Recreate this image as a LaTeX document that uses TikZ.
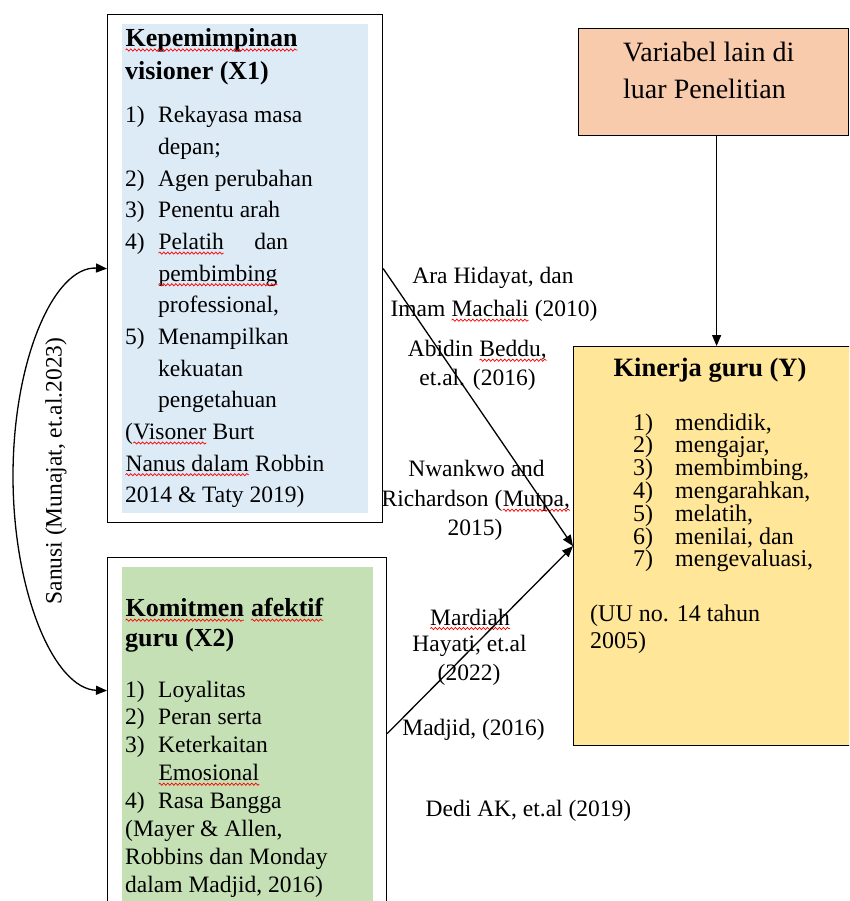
\documentclass[tikz,border=0pt]{standalone}
\usepackage{fontspec}
\setmainfont{Liberation Serif}
\newfontfamily\tnr{Liberation Serif}
\usetikzlibrary{arrows.meta,decorations.pathmorphing}
\newcommand\redsq[1]{\tikz[baseline=(w.base)]{\node[inner sep=0pt, outer sep=0pt, anchor=base, rotate=0] (w) {#1};
  \draw[red, line width=0.7pt, decorate, decoration={snake, amplitude=1.1pt, segment length=4pt}]
    ([yshift=-3.5pt]w.base west) -- ([yshift=-3.5pt]w.base east);}}
\definecolor{bluefill}{RGB}{221,235,247}
\definecolor{greenfill}{RGB}{197,224,180}
\definecolor{peachfill}{RGB}{248,203,173}
\definecolor{yellowfill}{RGB}{255,230,153}
\tikzset{
  body/.style={font=\tnr\fontsize{23.5}{28}\selectfont, inner sep=0pt, anchor=base west},
  kbody/.style={font=\tnr\fontsize{24}{28}\selectfont, inner sep=0pt, anchor=base west},
  vbody/.style={font=\tnr\fontsize{28}{32}\selectfont, inner sep=0pt, anchor=base west},
  ttl/.style={font=\tnr\bfseries\fontsize{26}{30}\selectfont, inner sep=0pt, anchor=base west},
  kttl/.style={font=\tnr\bfseries\fontsize{26.5}{30}\selectfont, inner sep=0pt, anchor=base},
  lbl/.style={font=\tnr\fontsize{23.5}{28}\selectfont, inner sep=0pt, anchor=base},
  boxx/.style={draw=black, line width=1.2pt, inner sep=0pt, anchor=north west},
  arr/.style={line width=1.3pt, -{Triangle[length=11pt,width=9pt]}},
}
\begin{document}
\begin{tikzpicture}[x=1pt,y=-1pt]
\useasboundingbox (0,0) rectangle (849,901);
\clip (0,0) rectangle (849,901);
% ---------- X1 box
\node[boxx, fill=white, minimum width=275pt, minimum height=508pt] (x1) at (107,14) {};
\fill[bluefill] (122,24) rectangle (368,513);
\node[ttl] (x1t1) at (125,46.5) {\redsq{Kepemimpinan}};
\node[ttl] (x1t2) at (125,79.5) {visioner (X1)};
\node[body] (x1n1) at (125,123) {1)};
\node[body] (x1a) at (158,123) {Rekayasa masa};
\node[body] (x1b) at (158,154.65) {depan;};
\node[body] (x1n2) at (125,186.3) {2)};
\node[body] (x1c) at (158,186.3) {Agen perubahan};
\node[body] (x1n3) at (125,217.95) {3)};
\node[body] (x1d) at (158,217.95) {Penentu arah};
\node[body] (x1n4) at (125,249.6) {4)};
\node[body] (x1e) at (158,249.6) {\hbox to 130pt{\redsq{Pelatih}\hfill dan}};
\node[body] (x1f) at (158,281.25) {\redsq{pembimbing}};
\node[body] (x1g) at (158,312.9) {professional,};
\node[body] (x1n5) at (125,344.55) {5)};
\node[body] (x1h) at (158,344.55) {Menampilkan};
\node[body] (x1i) at (158,376.2) {kekuatan};
\node[body] (x1j) at (158,407.85) {pengetahuan};
\node[body] (x1k) at (125,439.5) {(\redsq{Visoner} Burt};
\node[body] (x1l) at (125,471.15) {\redsq{Nanus dalam} Robbin};
\node[body] (x1m) at (125,502.8) {2014 \& Taty 2019)};
% ---------- X2 box
\node[boxx, fill=white, minimum width=279pt, minimum height=352pt] (x2) at (107,557) {};
\fill[greenfill] (122,567) rectangle (373,905);
\node[ttl] (x2t1) at (125,616.7) {\redsq{Komitmen} \redsq{afektif}};
\node[ttl] (x2t2) at (125,646.7) {guru (X2)};
\node[body] (x2n1) at (125,697) {1)};
\node[body] (x2a) at (158,697) {Loyalitas};
\node[body] (x2n2) at (125,724.9) {2)};
\node[body] (x2b) at (158,724.9) {Peran serta};
\node[body] (x2n3) at (125,752.8) {3)};
\node[body] (x2c) at (158,752.8) {Keterkaitan};
\node[body] (x2d) at (158,780.7) {\redsq{Emosional}};
\node[body] (x2n4) at (125,808.6) {4)};
\node[body] (x2e) at (158,808.6) {Rasa Bangga};
\node[body] (x2f) at (125,836.5) {(Mayer \& Allen,};
\node[body] (x2g) at (125,864.4) {Robbins dan Monday};
\node[body] (x2h) at (125,892.3) {dalam Madjid, 2016)};
% ---------- Variabel box
\node[boxx, fill=peachfill, minimum width=270pt, minimum height=107pt] (var) at (578,28) {};
\node[vbody] (vt1) at (623,61.7) {Variabel lain di};
\node[vbody] (vt2) at (623,98.3) {luar Penelitian};
% ---------- Kinerja box
\node[boxx, fill=yellowfill, minimum width=277pt, minimum height=399pt] (ky) at (573,346) {};
\node[kttl] (kyt) at (710,376.7) {Kinerja guru (Y)};
\node[kbody] (kn1) at (633,430) {1)};
\node[kbody] (ka) at (675,430) {mendidik,};
\node[kbody] (kn2) at (633,452.8) {2)};
\node[kbody] (kb) at (675,452.8) {mengajar,};
\node[kbody] (kn3) at (633,475.6) {3)};
\node[kbody] (kc) at (675,475.6) {membimbing,};
\node[kbody] (kn4) at (633,498.4) {4)};
\node[kbody] (kd) at (675,498.4) {mengarahkan,};
\node[kbody] (kn5) at (633,521.2) {5)};
\node[kbody] (ke) at (675,521.2) {melatih,};
\node[kbody] (kn6) at (633,544) {6)};
\node[kbody] (kf) at (675,544) {menilai, dan};
\node[kbody] (kn7) at (633,566.8) {7)};
\node[kbody] (kg) at (675,566.8) {mengevaluasi,};
\node[kbody] (kh) at (590,621.7) {(UU no. 14 tahun};
\node[kbody] (ki) at (590,648.3) {2005)};
% ---------- middle labels
\node[lbl] (m1) at (493,283) {Ara Hidayat, dan};
\node[lbl] (m2) at (494,316.7) {Imam \redsq{Machali} (2010)};
\node[lbl] (m3) at (477.5,356.7) {Abidin \redsq{Beddu,}};
\node[lbl] (m4) at (477.5,385) {et.al. (2016)};
\node[lbl] (m5) at (476.5,476.7) {Nwankwo and};
\node[lbl] (m6) at (476,506.7) {Richardson (\redsq{Mutpa,}};
\node[lbl] (m7) at (475,535) {2015)};
\node[lbl] (m8) at (470,625) {\redsq{Mardiah}};
\node[lbl] (m9) at (469.5,651.7) {Hayati, et.al};
\node[lbl] (m10) at (469,680) {(2022)};
\node[lbl] (m11) at (473.5,735) {Madjid, (2016)};
\node[lbl] (m12) at (528.5,816.7) {Dedi AK, et.al (2019)};
% ---------- left label
\node[lbl, anchor=center, rotate=90] (sl) at (56,471) {Sanusi (Munajat, et.al.2023)};
% ---------- connectors
\draw[arr] ([xshift=3pt]var.south) -- ([xshift=3pt]var.south |- ky.north);
\draw[arr] (x1.east) -- (ky.west);
\draw[arr] (x2.east) -- (ky.west);
\draw[arr, {Triangle[length=11pt,width=9pt]}-{Triangle[length=11pt,width=9pt]}]
  (x1.west) .. controls (54,266) and (13,360) .. (13,476)
  .. controls (13,592) and (54,689) .. ([yshift=43pt]x2.west);
\end{tikzpicture}
\end{document}
